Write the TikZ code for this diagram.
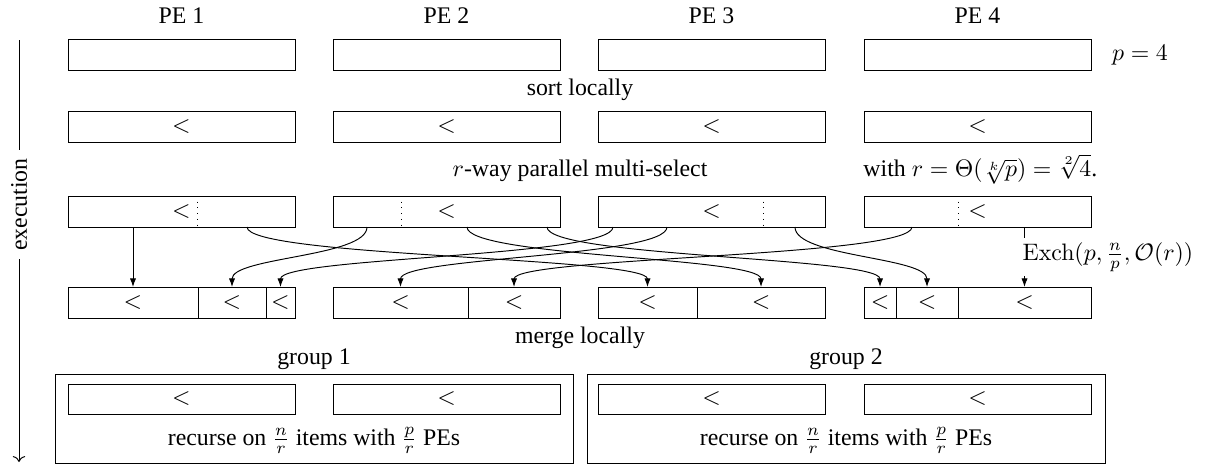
\documentclass[tikz,border=0pt]{standalone}
\usepackage[no-math]{fontspec}
\setmainfont{Liberation Serif}
\usetikzlibrary{arrows.meta}
\begin{document}
\begin{tikzpicture}[x=0.42pt, y=-0.42pt,
  blk/.style={draw, inner sep=0pt, outer sep=0pt, minimum height=13.02pt},
  lbl/.style={inner sep=0pt, anchor=base},
  flow/.style={-{Latex[length=3.6pt,width=2.6pt]}},
  grp/.style={draw, inner sep=0pt, outer sep=0pt, minimum width=217.56pt, minimum height=37.38pt},
]
\useasboundingbox (0,0) rectangle (1213,466);

% columns
\foreach \i/\cx in {1/181.5, 2/446.5, 3/711.5, 4/977.5} {
  \node[lbl] (pe\i) at (\cx, 23) {PE \i};
  \node[blk, minimum width=95.34pt] (a\i) at (\cx, 55) {};
  \node[blk, minimum width=95.34pt] (b\i) at (\cx, 126.5) {$<$};
  \node[blk, minimum width=95.34pt] (c\i) at (\cx, 211.5) {$<$};
}
\node (p4) at (1140, 55) {$p = 4$};

\node[lbl] (sortl) at (580, 95) {sort locally};
\node[lbl] (msel) at (580, 176) {$r$-way parallel multi-select};
\node[lbl, anchor=base west] (withr) at (863, 176) {with $r = \Theta(\sqrt[k]{p}) = \sqrt[2]{4}$.};

% dotted splitters
\foreach \x in {197, 401, 763, 958} {
  \draw[dotted] (\x,196) -- (\x,227);
}

% row 4 segments
\foreach \n/\cx/\w in {d11/133/130, d12/232/68, d13/280.5/29, d21/400.5/135, d22/514/92, d31/647.5/99, d32/761/128, d41/880/32, d42/927/62, d43/1024.5/133} {
  \node[blk, minimum width=\w*0.42pt] (\n) at (\cx, 302.5) {$<$};
}

% sources
\coordinate (s11) at (133,227);
\coordinate (s12) at (247,227);
\coordinate (s21) at (367,227);
\coordinate (s22) at (467,227);
\coordinate (s23) at (547,227);
\coordinate (s31) at (613,227);
\coordinate (s32) at (667,227);
\coordinate (s33) at (795,227);
\coordinate (s41) at (912,227);
\coordinate (s42) at (1024.5,227);

\draw[flow] (s11) -- (d11.north);
\draw[flow] (s12) .. controls +(0,30) and +(0,-30) .. (d31.north);
\draw[flow] (s21) .. controls +(0,30) and +(0,-30) .. (d12.north);
\draw[flow] (s22) .. controls +(0,30) and +(0,-30) .. (d32.north);
\draw[flow] (s23) .. controls +(0,30) and +(0,-30) .. (d41.north);
\draw[flow] (s31) .. controls +(0,30) and +(0,-30) .. (d13.north);
\draw[flow] (s32) .. controls +(0,30) and +(0,-30) .. (d21.north);
\draw[flow] (s33) .. controls +(0,30) and +(0,-30) .. (d42.north);
\draw[flow] (s41) .. controls +(0,30) and +(0,-30) .. (d22.north);
\draw[flow] (s42) -- node[fill=white, anchor=west, inner sep=2pt, xshift=-3pt] (exch) {$\mathrm{Exch}(p, \frac{n}{p}, \mathcal{O}(r))$} (d43.north);

\node[lbl] (mergel) at (580, 343) {merge locally};

% groups
\node[lbl] (gl1) at (314, 364) {group 1};
\node[lbl] (gl2) at (846, 364) {group 2};
\node[grp] (g1) at (314, 418.5) {};
\node[grp] (g2) at (846, 418.5) {};
\foreach \i/\cx in {1/181.5, 2/446.5, 3/711.5, 4/977.5} {
  \node[blk, minimum width=95.34pt, minimum height=12.6pt] (e\i) at (\cx, 399) {$<$};
}
\node[lbl] (rc1) at (314, 445) {recurse on $\frac{n}{r}$ items with $\frac{p}{r}$ PEs};
\node[lbl] (rc2) at (846, 445) {recurse on $\frac{n}{r}$ items with $\frac{p}{r}$ PEs};

% execution timeline
\coordinate (t0) at (19,40);
\coordinate (t1) at (19,462);
\draw[->] (t0) -- node[pos=0.39, fill=white, rotate=90] (exec) {execution} (t1);
\end{tikzpicture}
\end{document}
